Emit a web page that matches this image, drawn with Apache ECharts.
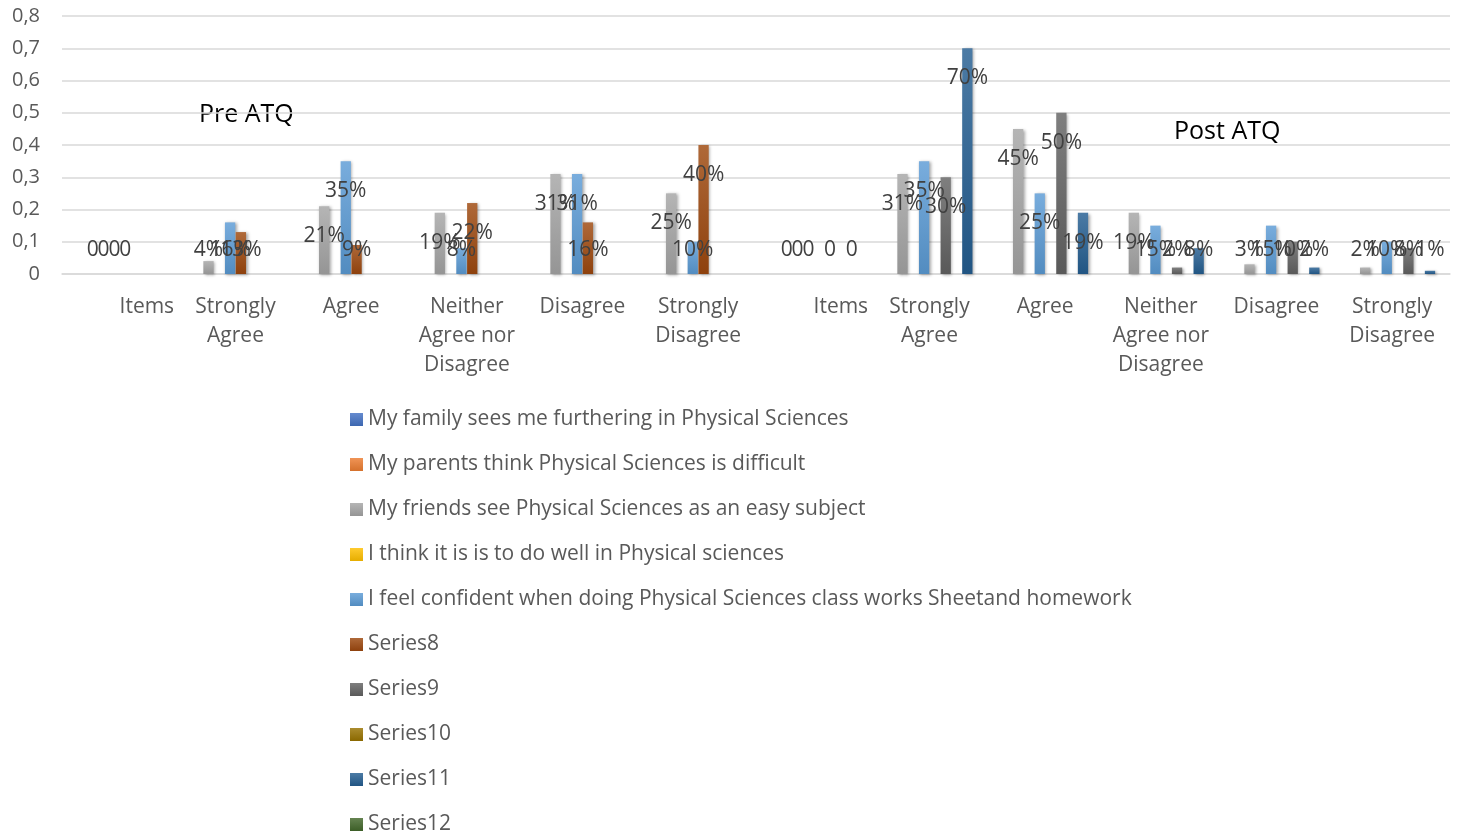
<!DOCTYPE html>
<html>
<head>
<meta charset="utf-8">
<script src="https://cdn.jsdelivr.net/npm/echarts@6/dist/echarts.min.js"></script>
<style>
  html, body { margin: 0; padding: 0; background: #fff; }
  #chart { width: 1461px; height: 835px; }
</style>
</head>
<body>
<div id="chart"></div>
<script>
// Category axis: pre-questionnaire block followed by the post-questionnaire block
const categories = [
  'Items', 'Strongly\nAgree', 'Agree', 'Neither\nAgree nor\nDisagree', 'Disagree', 'Strongly\nDisagree',
  'Items', 'Strongly\nAgree', 'Agree', 'Neither\nAgree nor\nDisagree', 'Disagree', 'Strongly\nDisagree'
];

const yTicks = { min: 0, max: 0.8, interval: 0.1 };

// Series values (share of responses); null = no value for that category
const familyFurthering = [null, null, null, null, null, null, null, null, null, null, null, null];
const parentsDifficult = [null, null, null, null, null, null, null, null, null, null, null, null];
const friendsEasy      = [0, 0.04, 0.21, 0.19, 0.31, 0.25, 0, 0.31, 0.45, 0.19, 0.03, 0.02];
const doWell           = [0, null, null, null, null, null, 0, null, null, null, null, null];
const feelConfident    = [0, 0.16, 0.35, 0.08, 0.31, 0.10, 0, 0.35, 0.25, 0.15, 0.15, 0.10];
const series8          = [0, 0.13, 0.09, 0.22, 0.16, 0.40, null, null, null, null, null, null];
const series9          = [null, null, null, null, null, null, 0, 0.30, 0.50, 0.02, 0.10, 0.08];
const series10         = [null, null, null, null, null, null, null, null, null, null, null, null];
const series11         = [null, null, null, null, null, null, 0, 0.70, 0.19, 0.08, 0.02, 0.01];
const series12         = [null, null, null, null, null, null, null, null, null, null, null, null];

const seriesNames = [
  'My family sees me furthering in Physical Sciences',
  'My parents think Physical Sciences is difficult',
  'My friends see Physical Sciences as an easy subject',
  'I think it is is to do well in Physical sciences',
  'I feel confident when doing Physical Sciences class works Sheetand homework',
  'Series8', 'Series9', 'Series10', 'Series11', 'Series12'
];
const seriesValues = [familyFurthering, parentsDifficult, friendsEasy, doWell, feelConfident,
                      series8, series9, series10, series11, series12];
const seriesColors = ['#4472C4', '#ED7D31', '#A5A5A5', '#FFC000', '#5B9BD5',
                      '#9E480E', '#636363', '#997300', '#255E91', '#43682B'];

const FONT = '"Open Sans", Lato, sans-serif';
const FONT_SIZE = 21;
const TEXT_GREY = '#595959';

function mix(hex, target, t) {
  const n = parseInt(hex.slice(1), 16);
  const r = (n >> 16) & 255, g = (n >> 8) & 255, b = n & 255;
  const m = c => Math.round(c + (target - c) * t);
  return 'rgb(' + m(r) + ',' + m(g) + ',' + m(b) + ')';
}

function shadedFill(hex) {
  return new echarts.graphic.LinearGradient(0, 0, 0, 1, [
    { offset: 0, color: mix(hex, 255, 0.18) },
    { offset: 1, color: mix(hex, 0, 0.10) }
  ]);
}

function labelText(p) {
  return p.value === 0 ? '0' : Math.round(p.value * 100) + '%';
}

// Short bars keep their label just above the baseline, taller ones sit inside the bar top
function dataItems(values) {
  return values.map(v => {
    if (v === null) return null;
    const tall = v >= 0.17;
    return {
      value: v,
      label: tall ? { position: 'insideTop', distance: 20 } : { position: 'insideBottom', distance: 14 }
    };
  });
}

const series = seriesNames.map((name, i) => ({
  name: name,
  type: 'bar',
  barGap: '5%',
  barCategoryGap: '7%',
  data: dataItems(seriesValues[i]),
  itemStyle: {
    color: shadedFill(seriesColors[i]),
    shadowColor: 'rgba(0,0,0,0.35)',
    shadowBlur: 3,
    shadowOffsetX: 1.5,
    shadowOffsetY: 1
  },
  label: {
    show: true,
    formatter: labelText,
    color: '#404040',
    fontFamily: FONT,
    fontSize: FONT_SIZE,
    lineHeight: 20
  },
  emphasis: { disabled: true },
  animation: false
}));

const chart = echarts.init(document.getElementById('chart'), null, { renderer: 'canvas' });

chart.setOption({
  backgroundColor: '#ffffff',
  animation: false,
  textStyle: { fontFamily: FONT },
  grid: { left: 62, right: 11, top: 16, bottom: 835 - 274, containLabel: false },
  xAxis: {
    type: 'category',
    data: categories,
    axisLine: { show: true, lineStyle: { color: '#D9D9D9', width: 1.5 } },
    axisTick: { show: false },
    axisLabel: {
      interval: 0,
      margin: 19,
      color: TEXT_GREY,
      fontFamily: FONT,
      fontSize: FONT_SIZE,
      lineHeight: 29,
      formatter: v => v === 'Items' ? '{shift|' + v + '}' : v,
      rich: { shift: { padding: [0, 0, 0, 54], color: TEXT_GREY, fontFamily: FONT, fontSize: FONT_SIZE, lineHeight: 29 } }
    }
  },
  yAxis: {
    type: 'value',
    min: yTicks.min,
    max: yTicks.max,
    interval: yTicks.interval,
    axisLine: { show: false },
    axisTick: { show: false },
    splitLine: { lineStyle: { color: '#D9D9D9', width: 1.5 } },
    axisLabel: {
      margin: 22,
      color: TEXT_GREY,
      fontFamily: FONT,
      fontSize: 20,
      formatter: v => v === 0 ? '0' : v.toFixed(1).replace('.', ',')
    }
  },
  legend: {
    orient: 'vertical',
    left: 350,
    top: 409,
    height: 460,
    padding: 0,
    itemWidth: 13,
    itemHeight: 13,
    itemGap: 24,
    icon: 'rect',
    selectedMode: false,
    itemStyle: { shadowBlur: 0, shadowOffsetX: 0, shadowOffsetY: 0 },
    textStyle: { color: TEXT_GREY, fontFamily: FONT, fontSize: FONT_SIZE, lineHeight: 20 },
    data: seriesNames
  },
  graphic: [
    { type: 'text', left: 199, top: 102, style: { text: 'Pre ATQ', fontSize: 25, fontFamily: FONT, fill: '#000000' } },
    { type: 'text', left: 1174, top: 119, style: { text: 'Post ATQ', fontSize: 25, fontFamily: FONT, fill: '#000000' } }
  ],
  series: series
});
</script>
</body>
</html>
